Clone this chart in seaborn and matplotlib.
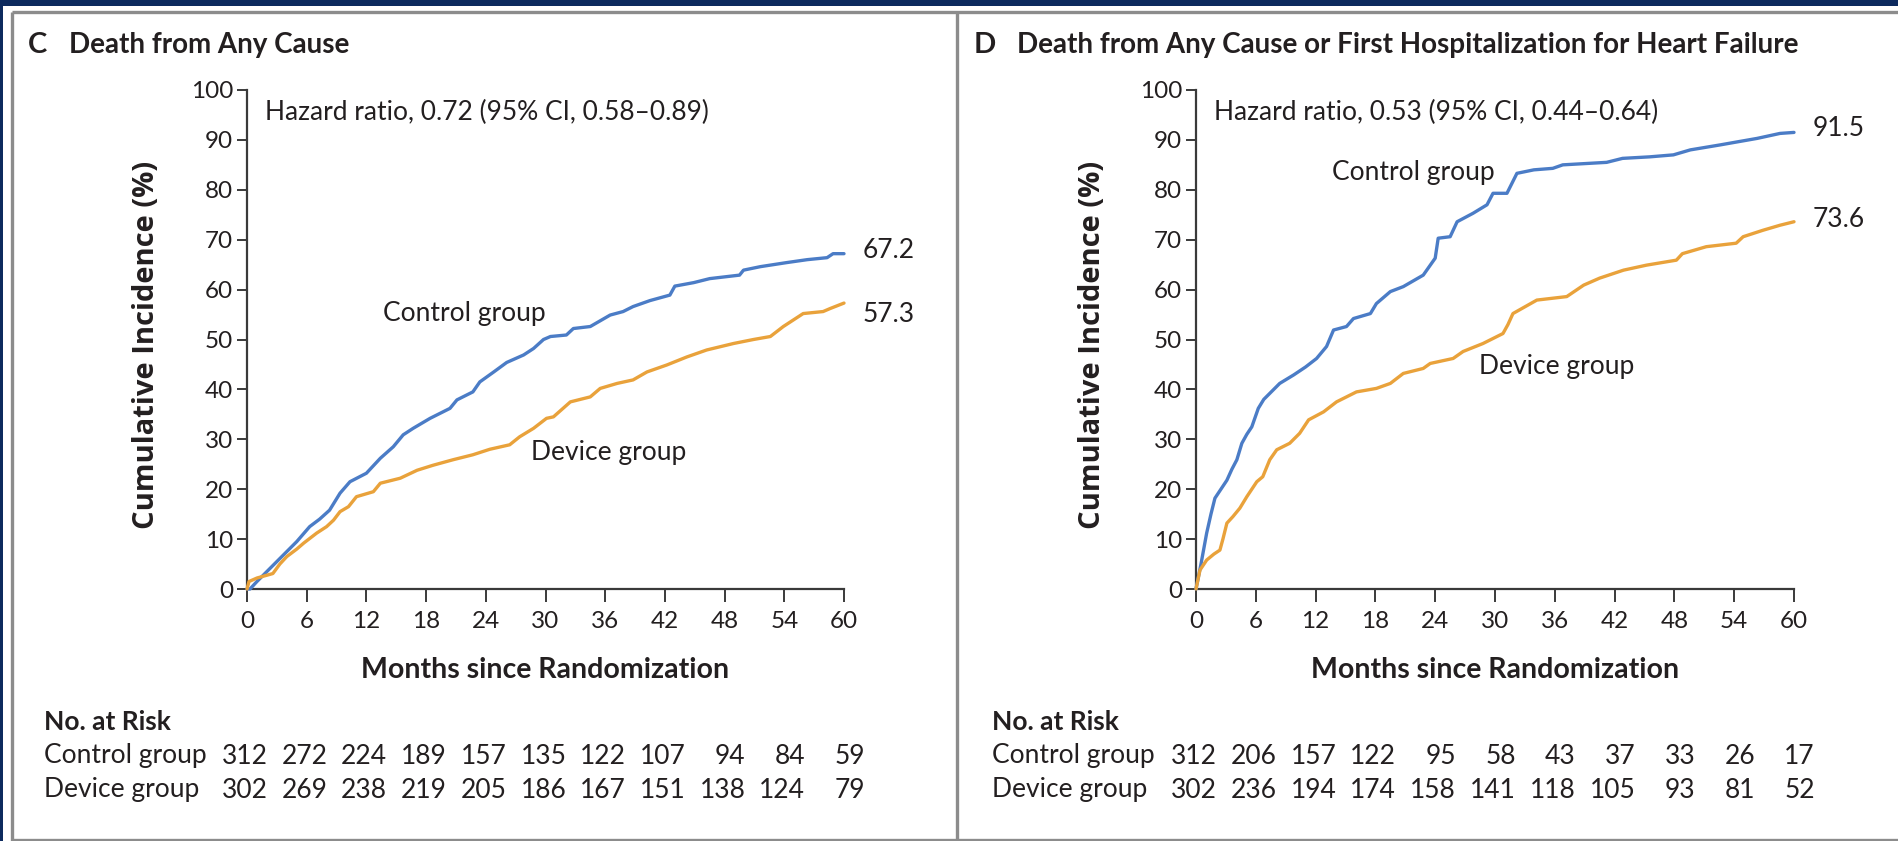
import matplotlib
matplotlib.use("Agg")
import matplotlib.pyplot as plt
import matplotlib.transforms as mtransforms
from matplotlib.lines import Line2D
from matplotlib.patches import Rectangle
import seaborn as sns

# ---------------- data ----------------
months_ticks = [0, 6, 12, 18, 24, 30, 36, 42, 48, 54, 60]

c_ctrl_m = [0, 0.3, 1.0, 2.0, 3.0, 4.0, 5.0, 6.3, 7.3, 8.3, 9.35, 10.35, 12.0, 13.4, 14.7, 15.7, 16.7,
            18.4, 20.4, 21.1, 22.7, 23.4, 24.8, 26.1, 27.8, 28.8, 29.8, 30.5, 32.1, 32.8, 34.5, 36.5,
            37.8, 38.8, 40.5, 42.5, 43.0, 44.9, 46.5, 49.5, 49.9, 51.6, 54.2, 56.3, 58.3, 58.9, 60]
c_ctrl_p = [0, 0, 1.5, 3.5, 5.5, 7.5, 9.5, 12.5, 14.0, 15.8, 19.2, 21.5, 23.2, 26.2, 28.5, 30.9, 32.2,
            34.2, 36.2, 37.9, 39.5, 41.5, 43.5, 45.4, 46.9, 48.2, 50.0, 50.6, 50.9, 52.2, 52.6, 54.9,
            55.6, 56.6, 57.8, 58.9, 60.7, 61.4, 62.2, 62.9, 63.9, 64.6, 65.4, 66.0, 66.4, 67.2, 67.2]

c_dev_m = [0, 0.2, 1.0, 2.6, 3.3, 4.0, 5.0, 5.7, 7.0, 8.0, 8.7, 9.35, 10.2, 11.0, 12.7, 13.4, 15.4,
           17.1, 18.7, 20.7, 22.7, 24.4, 26.4, 27.4, 28.8, 30.1, 30.8, 32.5, 34.5, 35.5, 37.2, 38.8,
           40.2, 42.2, 44.2, 46.2, 48.9, 50.9, 52.6, 53.9, 55.9, 57.9, 58.6, 60]
c_dev_p = [0, 1.5, 2.2, 3.1, 5.0, 6.5, 8.0, 9.2, 11.2, 12.5, 13.8, 15.5, 16.5, 18.5, 19.5, 21.2, 22.2,
           23.8, 24.8, 25.9, 26.9, 28.0, 28.9, 30.5, 32.2, 34.2, 34.5, 37.5, 38.5, 40.2, 41.2, 41.9,
           43.5, 44.9, 46.5, 47.9, 49.2, 50.0, 50.6, 52.6, 55.2, 55.6, 56.2, 57.3]

d_ctrl_m = [0, 0.5, 1.07, 1.5, 1.9, 2.5, 3.1, 3.6, 4.1, 4.6, 5.1, 5.6, 6.25, 6.8, 7.4, 8.4, 9.8, 11.0,
            12.1, 13.1, 13.8, 15.1, 15.8, 17.5, 18.1, 19.5, 20.8, 22.8, 24.0, 24.3, 25.5, 26.2, 27.8,
            29.2, 29.8, 31.2, 32.2, 33.9, 35.8, 36.8, 41.2, 42.8, 45.5, 47.9, 49.6, 52.6, 54.3, 56.3,
            58.6, 60]
d_ctrl_p = [0, 5.0, 11.2, 15.0, 18.2, 20.0, 21.8, 24.0, 25.9, 29.2, 31.0, 32.5, 36.2, 38.0, 39.2, 41.2,
            42.9, 44.5, 46.2, 48.6, 51.9, 52.6, 54.2, 55.2, 57.2, 59.6, 60.6, 62.9, 66.3, 70.3, 70.6,
            73.6, 75.3, 77.0, 79.3, 79.3, 83.3, 84.0, 84.3, 85.0, 85.5, 86.3, 86.6, 87.0, 88.0, 89.0,
            89.6, 90.3, 91.3, 91.5]

d_dev_m = [0, 0.4, 1.07, 1.8, 2.4, 2.7, 3.1, 3.7, 4.4, 5.1, 6.1, 6.7, 7.4, 8.1, 9.4, 10.4, 11.3, 12.8,
           14.1, 16.1, 18.1, 19.5, 20.8, 22.8, 23.5, 25.8, 26.8, 28.8, 30.8, 31.3, 31.8, 34.2, 37.2,
           38.9, 40.5, 42.9, 45.2, 48.2, 48.8, 51.2, 54.2, 54.9, 56.9, 58.6, 60]
d_dev_p = [0, 3.8, 5.8, 7.0, 7.8, 10.0, 13.2, 14.5, 16.2, 18.5, 21.5, 22.5, 25.9, 27.9, 29.2, 31.2,
           33.9, 35.5, 37.5, 39.5, 40.2, 41.2, 43.2, 44.2, 45.2, 46.2, 47.6, 49.2, 51.2, 53.0, 55.2,
           57.9, 58.6, 60.9, 62.3, 63.9, 64.9, 65.9, 67.2, 68.6, 69.3, 70.6, 71.9, 72.9, 73.6]

c_risk_ctrl = [312, 272, 224, 189, 157, 135, 122, 107, 94, 84, 59]
c_risk_dev = [302, 269, 238, 219, 205, 186, 167, 151, 138, 124, 79]
d_risk_ctrl = [312, 206, 157, 122, 95, 58, 43, 37, 33, 26, 17]
d_risk_dev = [302, 236, 194, 174, 158, 141, 118, 105, 93, 81, 52]

c_title = "Death from Any Cause"
d_title = "Death from Any Cause or First Hospitalization for Heart Failure"
c_hr = "Hazard ratio, 0.72 (95% CI, 0.58\u20130.89)"
d_hr = "Hazard ratio, 0.53 (95% CI, 0.44\u20130.64)"

# ---------------- style ----------------
W, H = 1898, 841
sns.set_theme(style="ticks")
plt.rcParams['font.family'] = ['Lato', 'DejaVu Sans']

TXT = '#231f20'
BLUE = '#4b7cc6'
ORANGE = '#e9a23b'
SPINE = '#3a3a3a'
NAVY = '#0d2a5e'
GRAY = '#8c8c8c'
FS = 19

fig = plt.figure(figsize=(W / 100, H / 100), dpi=100)
fig.patch.set_facecolor('white')


def fx(x):
    return x / W


def fy(y):
    return 1 - y / H


# frame
fig.add_artist(Rectangle((0, fy(6)), 1, 6 / H, transform=fig.transFigure, color=NAVY, lw=0))
fig.add_artist(Rectangle((0, 0), 3 / W, 1, transform=fig.transFigure, color=NAVY, lw=0))
for (x0, y0, x1, y1) in [(12, 11.5, W, 11.5), (12, 11.5, 12, H), (12, 839.5, W, 839.5), (957, 11.5, 957, H)]:
    fig.add_artist(Line2D([fx(x0), fx(x1)], [fy(y0), fy(y1)], transform=fig.transFigure,
                          color=GRAY, lw=2.4, solid_capstyle='butt'))

panels = [
    dict(letter='C', title=c_title, hr=c_hr, left=247, right=844, letter_x=28, title_x=69,
         ctrl=(c_ctrl_m, c_ctrl_p), dev=(c_dev_m, c_dev_p),
         risk=(c_risk_ctrl, c_risk_dev), ctrl_lab=(13.7, 55.3), dev_lab=(28.5, 27.3),
         end_lab_y=(67.9, 55.0), ylab_x=147, risk_x=44),
    dict(letter='D', title=d_title, hr=d_hr, left=1196, right=1794, letter_x=974, title_x=1017,
         ctrl=(d_ctrl_m, d_ctrl_p), dev=(d_dev_m, d_dev_p),
         risk=(d_risk_ctrl, d_risk_dev), ctrl_lab=(13.6, 83.4), dev_lab=(28.4, 44.5),
         end_lab_y=(92.2, 74.0), ylab_x=1093, risk_x=992),
]

Y0, Y100 = 589, 90

for p in panels:
    ax = fig.add_axes([fx(p['left']), fy(Y0), (p['right'] - p['left']) / W, (Y0 - Y100) / H])
    ax.set_facecolor('white')
    sns.lineplot(x=p['ctrl'][0], y=p['ctrl'][1], ax=ax, color=BLUE, lw=2.4,
                 estimator=None, sort=False, clip_on=False, zorder=3)
    sns.lineplot(x=p['dev'][0], y=p['dev'][1], ax=ax, color=ORANGE, lw=2.4,
                 estimator=None, sort=False, clip_on=False, zorder=3)
    ax.set_xlim(0, 60)
    ax.set_ylim(0, 100)
    ax.set_xticks(months_ticks)
    ax.set_yticks(range(0, 101, 10))
    for s in ['top', 'right']:
        ax.spines[s].set_visible(False)
    for s in ['left', 'bottom']:
        ax.spines[s].set_color(SPINE)
        ax.spines[s].set_linewidth(1.6)
    ax.tick_params(axis='x', direction='out', length=9, width=1.4, color=SPINE,
                   labelsize=17.5, labelcolor=TXT, pad=7)
    ax.tick_params(axis='y', direction='out', length=7, width=1.4, color=SPINE,
                   labelsize=17.5, labelcolor=TXT, pad=3)
    ax.grid(False)

    ax.set_xlabel('Months since Randomization', fontsize=20.5, fontweight='bold', color=TXT)
    ax.xaxis.set_label_coords(0.5, (Y0 - 670) / (Y0 - Y100))
    ax.xaxis.label.set_va('center')
    ax.set_ylabel('Cumulative Incidence (%)', fontsize=21, fontweight='bold', color=TXT,
                  family=['Open Sans', 'Lato', 'DejaVu Sans'])
    ax.yaxis.set_label_coords((p['ylab_x'] - p['left']) / (p['right'] - p['left']), 0.49)
    ax.yaxis.label.set_va('center')

    ax.text((265 - 247) / 597, (Y0 - 112) / (Y0 - Y100), p['hr'], transform=ax.transAxes,
            fontsize=FS, color=TXT, ha='left', va='center')

    for val, ly in [(p['ctrl'][1][-1], p['end_lab_y'][0]), (p['dev'][1][-1], p['end_lab_y'][1])]:
        ax.annotate(f"{val:.1f}", xy=(60, ly), xytext=(13.5, 0),
                    textcoords='offset points', fontsize=FS, color=TXT, ha='left', va='center',
                    annotation_clip=False)
    ax.text(p['ctrl_lab'][0], p['ctrl_lab'][1], 'Control group', fontsize=FS, color=TXT,
            ha='left', va='center')
    ax.text(p['dev_lab'][0], p['dev_lab'][1], 'Device group', fontsize=FS, color=TXT,
            ha='left', va='center')

    # panel title
    fig.text(fx(p['letter_x']), fy(45), p['letter'], fontsize=21, fontweight='bold', color=TXT,
             ha='left', va='center')
    fig.text(fx(p['title_x']), fy(45), p['title'], fontsize=20, fontweight='bold', color=TXT,
             ha='left', va='center')

    # numbers at risk
    fig.text(fx(p['risk_x']), fy(722), 'No. at Risk', fontsize=FS, fontweight='bold', color=TXT,
             ha='left', va='center')
    trans = mtransforms.blended_transform_factory(ax.transData, fig.transFigure)
    for row_y, lab, vals in [(756, 'Control group', p['risk'][0]), (790, 'Device group', p['risk'][1])]:
        fig.text(fx(p['risk_x']), fy(row_y), lab, fontsize=FS, color=TXT, ha='left', va='center')
        for t, v in zip(months_ticks, vals):
            ax.annotate(str(v), xy=(t, fy(row_y)), xycoords=trans, xytext=(15, 0),
                        textcoords='offset points', fontsize=FS, color=TXT, ha='right', va='center',
                        annotation_clip=False)

fig.savefig('out.png', dpi=100, facecolor='white')
